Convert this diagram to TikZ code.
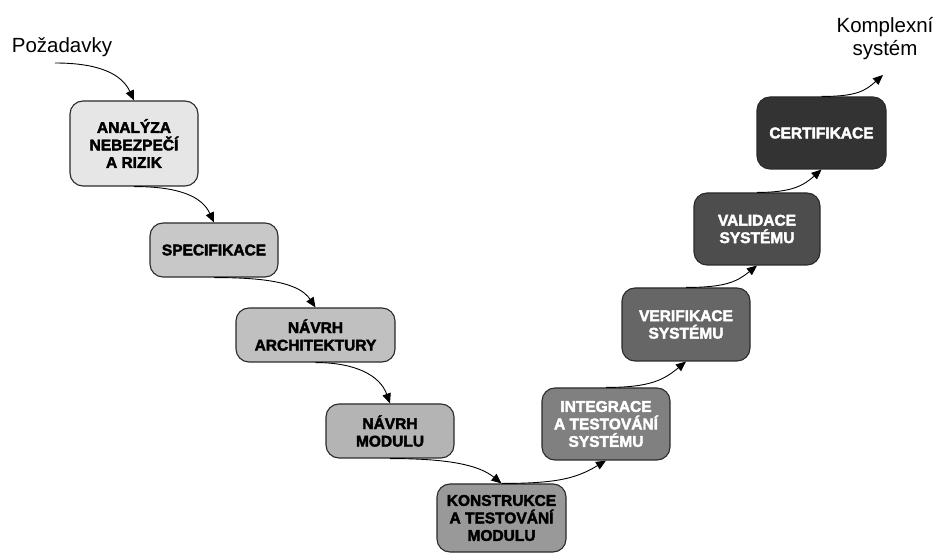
\documentclass[tikz,border=0pt]{standalone}
\usepackage{fontspec}
\setmainfont{Liberation Sans}
\newfontfamily\heavyfont{Liberation Sans Bold}[FakeBold=2.5]
\usetikzlibrary{arrows.meta}
\definecolor{c1}{HTML}{E6E6E6}
\definecolor{c2}{HTML}{C8C8C8}
\definecolor{c3}{HTML}{C0C0C0}
\definecolor{c4}{HTML}{B4B4B4}
\definecolor{c5}{HTML}{999999}
\definecolor{c6}{HTML}{808080}
\definecolor{c7}{HTML}{666666}
\definecolor{c8}{HTML}{4D4D4D}
\definecolor{c9}{HTML}{333333}
\definecolor{edge}{HTML}{2A2A2A}
\begin{document}
\begin{tikzpicture}[x=1pt,y=-1pt,
  phase/.style={draw=edge, line width=1.1pt, rounded corners=13pt, inner sep=0pt,
    align=center, font=\heavyfont\fontsize{15.5}{17.5}\selectfont},
  flow/.style={draw=black, line width=0.9pt, -{Triangle[length=10pt,width=8.5pt]}},
  lbl/.style={font=\fontsize{20.5}{23.5}\selectfont, align=center, inner sep=0pt}
]
\useasboundingbox (0,0) rectangle (938,553);
\node[phase, fill=c1, minimum width=128pt, minimum height=85pt] (b1) at (134,143.5) {ANALÝZA\\NEBEZPEČÍ\\A RIZIK};
\node[phase, fill=c2, minimum width=128pt, minimum height=54pt] (b2) at (214,250) {SPECIFIKACE};
\node[phase, fill=c3, minimum width=159pt, minimum height=54pt] (b3) at (315.5,335) {NÁVRH\\ARCHITEKTURY};
\node[phase, fill=c4, minimum width=128pt, minimum height=54pt] (b4) at (390,431) {NÁVRH\\MODULU};
\node[phase, fill=c5, minimum width=129pt, minimum height=68pt] (b5) at (501.5,518) {KONSTRUKCE\\A TESTOVÁNÍ\\MODULU};
\node[phase, fill=c6, text=white, minimum width=128pt, minimum height=72pt] (b6) at (606,424) {INTEGRACE\\A TESTOVÁNÍ\\SYSTÉMU};
\node[phase, fill=c7, text=white, minimum width=128pt, minimum height=73pt] (b7) at (686,324.5) {VERIFIKACE\\SYSTÉMU};
\node[phase, fill=c8, text=white, minimum width=126pt, minimum height=72pt] (b8) at (757,229) {VALIDACE\\SYSTÉMU};
\node[phase, fill=c9, text=white, minimum width=129pt, minimum height=72pt] (b9) at (821.5,133) {CERTIFIKACE};
\node[lbl, anchor=base] (req) at (62,53) {Požadavky};
\node[lbl, anchor=base] (out) at (885,56) {Komplexní\\systém};
\coordinate (rs) at (55,63);
\coordinate (oe) at (883,75);
\draw[flow] (rs) .. controls +(45,0) and +(-12,-26) .. (b1.north);
\draw[flow] (b1.south) .. controls +(45,0) and +(-12,-26) .. (b2.north);
\draw[flow] (b2.south) .. controls +(55,0) and +(-16,-24) .. (b3.north);
\draw[flow] (b3.south) .. controls +(40,0) and +(-10,-28) .. (b4.north);
\draw[flow] (b4.south) .. controls +(60,0) and +(-22,-18) .. (b5.north);
\draw[flow] (b5.north) .. controls +(55,0) and +(-30,18) .. (b6.south);
\draw[flow] (b6.north) .. controls +(45,0) and +(-22,18) .. (b7.south);
\draw[flow] (b7.north) .. controls +(40,0) and +(-20,16) .. (b8.south);
\draw[flow] (b8.north) .. controls +(35,0) and +(-18,16) .. (b9.south);
\draw[flow] (b9.north) .. controls +(35,0) and +(-18,16) .. (oe);
\end{tikzpicture}
\end{document}
